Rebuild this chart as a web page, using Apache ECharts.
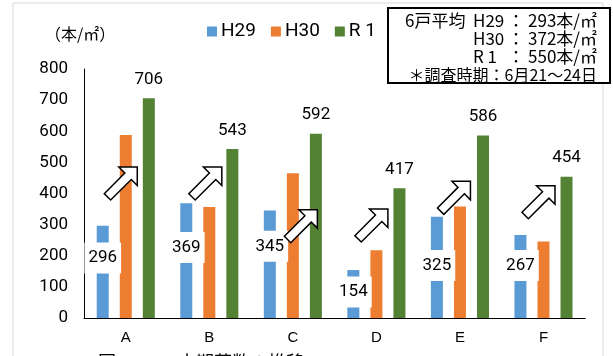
<!DOCTYPE html>
<html>
<head>
<meta charset="utf-8">
<script src="https://cdn.jsdelivr.net/npm/echarts@6/dist/echarts.min.js"></script>
<style>
html,body{margin:0;padding:0;background:#fff;}
#c{width:613px;height:356px;}
</style>
</head>
<body>
<div id="c"></div>
<script>
// ---- data ----
const categories = ['A', 'B', 'C', 'D', 'E', 'F'];
const seriesNames = ['H29', 'H30', 'R 1'];
const h29 = [296, 369, 345, 154, 325, 267];
const h30 = [588, 357, 465, 218, 358, 246];
const r1 = [706, 543, 592, 417, 586, 454];
const yMin = 0, yMax = 800, yStep = 100;
// arrow annotations (value at arrow centre)
const arrowValues = [432, 432, 295, 297, 386, 372];
// 6-farm averages shown in the note box
const avgLabels = ['H29', 'H30', 'R 1'];
const avgValues = [293, 372, 550];

// ---- styling helpers (not data) ----
const arrowDx = [-5, -4, 8, -5, -6, -5];
const h29LabelDy = [-14, -13, -18, -2, -2, -11];
const colors = ['#5B9BD5', '#ED7D31', '#548235'];
const numFont = 'Roboto';
const jpFont = '"Noto Sans CJK JP"';

const arrowPath = 'path://M-3.18,-3.18 L17.32,-23.69 L11.31,-29.70 L29.70,-29.70 L29.70,-11.31 L23.69,-17.32 L3.18,3.18 Z';

const chart = echarts.init(document.getElementById('c'), null, {renderer: 'canvas'});

const boxFont = '16px ' + jpFont;
const avgFont = '17px ' + jpFont;
const lineYs = [21, 39, 57];
const noteTexts = [];
noteTexts.push({type: 'text', z: 11, x: 405, y: lineYs[0],
  style: {text: '6戸平均', font: avgFont, fill: '#000', textVerticalAlign: 'middle'}});
avgLabels.forEach((lab, i) => {
  noteTexts.push({type: 'text', z: 11, x: 473, y: lineYs[i],
    style: {text: lab, font: avgFont, fill: '#000', textVerticalAlign: 'middle'}});
  noteTexts.push({type: 'text', z: 11, x: 516, y: lineYs[i],
    style: {text: '：', font: avgFont, fill: '#000', textAlign: 'center', textVerticalAlign: 'middle'}});
  noteTexts.push({type: 'text', z: 11, x: 597, y: lineYs[i],
    style: {text: avgValues[i] + '本/㎡', font: avgFont, fill: '#000', textAlign: 'right', textVerticalAlign: 'middle'}});
});
noteTexts.push({type: 'text', z: 11, x: 597, y: 74.5,
  style: {text: '＊調査時期：6月21～24日', font: boxFont, fill: '#000', textAlign: 'right', textVerticalAlign: 'middle'}});

const option = {
  animation: false,
  backgroundColor: '#fff',
  color: colors,
  grid: {left: 84, right: 27.75, top: 69, bottom: 38, containLabel: false},
  legend: {
    data: seriesNames,
    left: 202, top: 17,
    icon: 'rect', itemWidth: 10, itemHeight: 10, itemGap: 15,
    textStyle: {fontFamily: numFont, fontSize: 19, color: '#000', padding: [0, 0, 0, -1]}
  },
  xAxis: {
    type: 'category',
    data: categories,
    axisLine: {lineStyle: {color: '#000', width: 1}},
    axisTick: {show: false},
    axisLabel: {fontFamily: '"Liberation Sans"', fontSize: 15, color: '#000', margin: 12}
  },
  yAxis: {
    type: 'value',
    min: yMin, max: yMax, interval: yStep,
    axisLine: {show: true, lineStyle: {color: '#000', width: 1}},
    axisTick: {show: false},
    splitLine: {show: false},
    axisLabel: {fontFamily: numFont, fontSize: 17, color: '#000', margin: 16}
  },
  series: [
    {
      name: seriesNames[0], type: 'bar', barWidth: 12, barGap: '92%',
      data: h29.map((v, i) => ({
        value: v,
        label: {offset: [0, h29LabelDy[i]]}
      })),
      label: {
        show: true, position: 'inside', color: '#000',
        fontFamily: numFont, fontSize: 17, lineHeight: 17,
        backgroundColor: '#fff', padding: [7, 4]
      },
      z: 2
    },
    {
      name: seriesNames[1], type: 'bar', barWidth: 12, barGap: '92%',
      data: h30,
      z: 2,
      markPoint: {
        symbol: arrowPath,
        symbolSize: 33,
        symbolKeepAspect: true,
        label: {show: false},
        itemStyle: {color: '#fff', borderColor: '#000', borderWidth: 1.5},
        data: arrowValues.map((v, i) => ({
          coord: [categories[i], v],
          symbolOffset: [arrowDx[i], 0]
        })),
        z: 5
      }
    },
    {
      name: seriesNames[2], type: 'bar', barWidth: 12, barGap: '92%',
      data: r1,
      label: {
        show: true, position: 'top', distance: 10, color: '#000',
        fontFamily: numFont, fontSize: 17
      },
      z: 2
    }
  ],
  graphic: [
    {type: 'rect', z: 0, silent: true,
     shape: {x: 13, y: 3, width: 590, height: 400},
     style: {fill: 'none', stroke: '#d9d9d9', lineWidth: 1}},
    {type: 'text', left: 45, top: 26, z: 10,
     style: {text: '（本/㎡）', font: '16px ' + jpFont, fill: '#000'}},
    {type: 'rect', z: 10,
     shape: {x: 388, y: 8, width: 222, height: 75},
     style: {fill: '#fff', stroke: '#000', lineWidth: 2}},
    ...noteTexts,
    {type: 'text', z: 11, x: 98, y: 362,
     style: {text: '図', font: '18px ' + jpFont, fill: '#000', textVerticalAlign: 'middle'}},
    {type: 'text', z: 11, x: 178, y: 362,
     style: {text: '本期茎数の推移', font: '18px ' + jpFont, fill: '#000', textVerticalAlign: 'middle'}}
  ]
};
chart.setOption(option);
</script>
</body>
</html>
